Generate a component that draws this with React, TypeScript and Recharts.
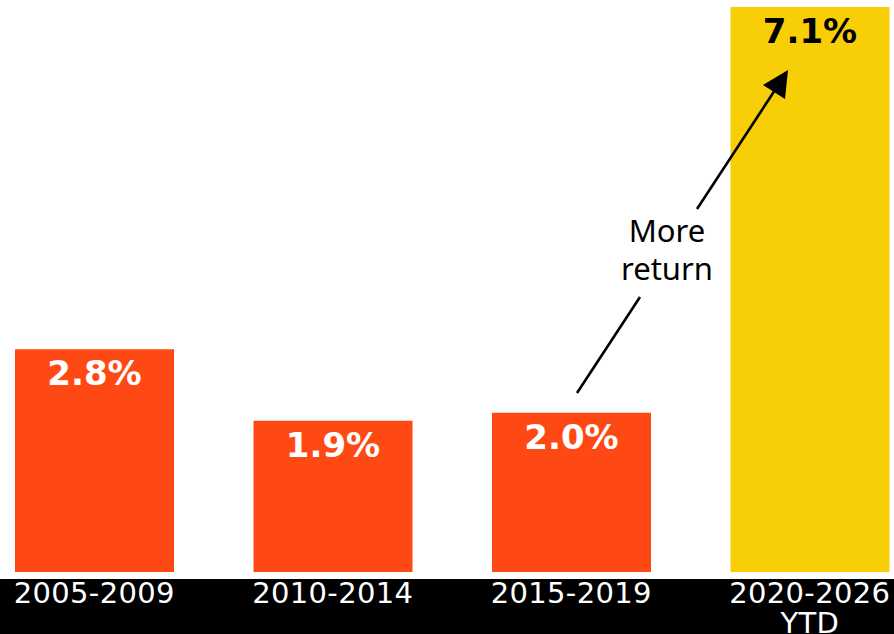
import { Bar, BarChart, Cell, LabelList, XAxis, YAxis } from "recharts";

const periods = ["2005-2009", "2010-2014", "2015-2019", "2020-2026 YTD"];
const returns = [2.8, 1.9, 2.0, 7.1];
const barColors = ["#FF4914", "#FF4914", "#FF4914", "#F8CE07"];
const labelColors = ["#ffffff", "#ffffff", "#ffffff", "#000000"];

const data = periods.map((period, i) => ({ period, value: returns[i] }));

function PeriodTick(props: any) {
  const { x, y, payload } = props;
  const words = String(payload.value).split(" ");
  return (
    <text
      x={x}
      y={y}
      textAnchor="middle"
      fill="#ffffff"
      fontFamily="DejaVu Sans"
      fontSize={29}
      letterSpacing={0.3}
    >
      {words.map((w, i) => (
        <tspan key={w} x={x} dy={i === 0 ? 31 : 30}>
          {w}
        </tspan>
      ))}
    </text>
  );
}

function ValueLabel(props: any) {
  const { x, y, width, value, index } = props;
  const i = typeof index === "number" ? index : returns.indexOf(Number(value));
  return (
    <text
      x={Number(x) + Number(width) / 2}
      y={Number(y) + 36}
      textAnchor="middle"
      fill={labelColors[i] ?? "#ffffff"}
      fontFamily="DejaVu Sans"
      fontWeight="bold"
      fontSize={34}
    >
      {`${Number(value).toFixed(1)}%`}
    </text>
  );
}

export default function App() {
  return (
    <div
      style={{
        position: "absolute",
        left: 0,
        top: 0,
        width: 894,
        height: 634,
        overflow: "hidden",
        background: "#ffffff",
      }}
    >
      <div
        style={{
          position: "absolute",
          left: 0,
          top: 579,
          width: 894,
          height: 55,
          background: "#000000",
        }}
      />
      <div style={{ position: "absolute", left: -25, top: 0 }}>
        <BarChart
          width={954}
          height={634}
          data={data}
          margin={{ top: 7, right: 0, bottom: 0, left: 0 }}
        >
          <XAxis
            dataKey="period"
            axisLine={false}
            tickLine={false}
            tickSize={0}
            tickMargin={0}
            height={62}
            interval={0}
            tick={<PeriodTick />}
          />
          <YAxis hide domain={[0, 7.1]} />
          <Bar dataKey="value" barSize={159} isAnimationActive={false}>
            {data.map((d, i) => (
              <Cell key={d.period} fill={barColors[i]} />
            ))}
            <LabelList dataKey="value" content={<ValueLabel />} />
          </Bar>
        </BarChart>
      </div>
      <svg
        width={894}
        height={634}
        style={{ position: "absolute", left: 0, top: 0, pointerEvents: "none" }}
      >
        <line x1={577} y1={393} x2={640} y2={297} stroke="#000" strokeWidth={2.6} />
        <line x1={697} y1={209} x2={775} y2={90} stroke="#000" strokeWidth={2.6} />
        <polygon points="788,70 763,85 785,99" fill="#000" />
        <text
          x={667}
          textAnchor="middle"
          fontFamily="Noto Sans"
          fontSize={31}
          fill="#000"
        >
          <tspan x={667} y={242}>
            More
          </tspan>
          <tspan x={667} y={280}>
            return
          </tspan>
        </text>
      </svg>
    </div>
  );
}
